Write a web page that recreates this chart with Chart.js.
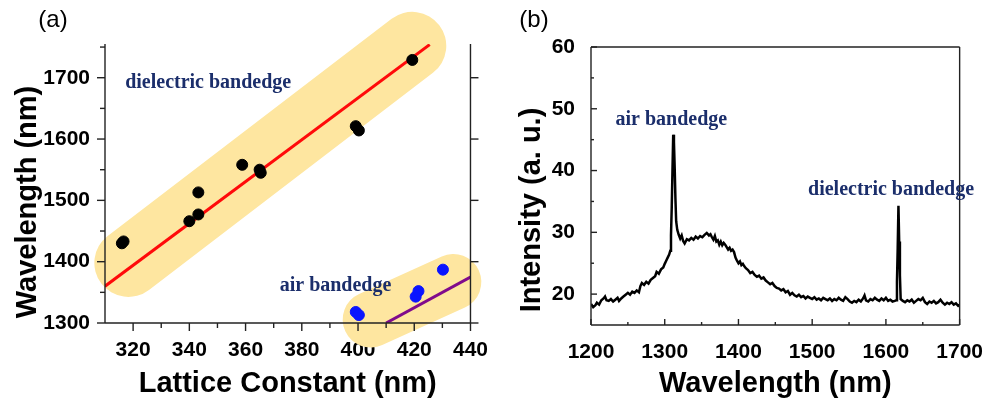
<!DOCTYPE html>
<html>
<head>
<meta charset="utf-8">
<script src="https://cdn.jsdelivr.net/npm/chart.js@4/dist/chart.umd.min.js"></script>
<style>
  body { margin: 0; background: #fff; }
  #wrap { position: relative; width: 990px; height: 400px; }
  canvas { position: absolute; top: 0; }
</style>
</head>
<body>
<div id="wrap">
  <canvas id="chartA" width="495" height="400" style="left:0"></canvas>
  <canvas id="chartB" width="495" height="400" style="left:495px"></canvas>
</div>
<script>
// (a) band edge vs lattice constant
const latticeBlack = [316, 316.6, 340, 343.2, 343.2, 358.8, 365, 365.4, 399.2, 400.3, 419.3];
const waveBlack = [1430, 1433, 1466, 1477, 1513, 1558, 1550, 1545, 1621, 1614, 1729];
const latticeBlue = [399.2, 400.3, 420.5, 421.5, 430.2];
const waveBlue = [1318, 1313, 1343, 1352, 1387];
const dielFitX = [310, 425.5];
const dielFitY = [1360, 1754];
const airFitX = [410, 440];
const airFitY = [1300, 1375];
const dielBandX = [318.3, 419.3];
const dielBandY = [1398, 1752];
const airBandX = [404.5, 433.9];
const airBandY = [1305.7, 1366.8];
const xTicksA = [320, 340, 360, 380, 400, 420, 440];
const yTicksA = [1300, 1400, 1500, 1600, 1700];

// (b) spectrum
const specWl = [1200,1203,1206,1208,1211,1214,1217,1219,1221,1224,1227,1230,1233,1236,1238,1241,1244,1247,1250,1253,
  1256,1259,1262,1265,1267,1269,1272,1275,1278,1281,1284,1287,1289,1292,1295,1298,1300,1302,1304,1306,
  1307.5,1308.5,1309.5,1310.5,1311.5,1312.5,1313.5,1314.5,1315.5,1317,1319,1321,1323,1325,1327,1330,1333,1336,1339,1342,
  1345,1348,1351,1354,1357,1360,1362,1364,1366,1368,1370,1372,1374,1376,1378,1380,1382,1384,1386,1388,
  1390,1392,1394,1396,1398,1400,1402,1404,1406,1408,1410,1413,1416,1419,1422,1425,1428,1431,1434,1437,
  1440,1443,1446,1449,1452,1455,1458,1461,1464,1467,1470,1473,1476,1479,1482,1485,1488,1491,1494,1497,
  1500,1503,1506,1509,1512,1515,1518,1521,1524,1527,1530,1533,1536,1539,1542,1545,1548,1551,1554,1557,
  1560,1563,1566,1569,1571,1573,1576,1579,1582,1585,1588,1591,1594,1597,1600,1603,1606,1609,1612,1614,
  1615,1616,1617,1618,1619,1620,1623,1626,1629,1632,1635,1638,1641,1644,1647,1650,1653,1656,1659,1662,
  1665,1668,1671,1674,1677,1680,1683,1686,1689,1692,1695,1698,1700];
const specInt = [18.4,17.9,18.2,18.6,18.3,19.0,19.3,19.6,19.0,18.9,19.2,18.8,19.1,19.4,18.9,19.3,19.6,19.9,20.2,19.9,
  20.4,20.2,20.6,20.3,21.3,21.8,21.5,22.0,21.7,22.3,22.6,22.9,23.6,23.3,24.0,24.3,24.9,25.4,25.9,26.4,
  27.0,29.5,34.0,40.0,45.8,44.6,40.5,35.5,31.8,30.4,29.6,29.0,29.5,28.6,28.2,28.9,28.7,29.1,28.8,29.3,
  29.0,29.4,29.2,29.6,29.9,29.5,29.7,29.2,28.8,29.4,28.5,28.7,28.0,28.5,27.9,28.3,28.0,27.6,27.2,27.5,
  27.0,27.2,26.8,25.9,25.4,25.0,25.3,24.7,24.9,24.5,24.2,23.9,23.4,23.6,23.1,22.8,23.0,22.5,22.7,22.2,
  21.9,21.6,21.8,21.3,21.0,20.9,20.6,20.8,20.3,20.5,19.9,20.2,19.8,19.6,19.9,19.5,19.7,19.3,19.6,19.4,
  19.2,19.5,19.1,19.3,19.0,19.4,19.2,19.0,19.3,18.9,19.2,19.0,19.4,19.1,18.9,19.5,19.2,18.8,18.6,18.9,
  18.7,19.1,18.8,19.3,19.8,19.0,18.8,19.2,19.0,19.4,19.1,18.9,19.3,19.0,19.4,18.9,19.1,18.8,18.9,19.0,
  22.0,27.5,34.3,28.5,23.0,19.2,18.9,18.7,19.0,18.8,19.1,18.6,18.9,19.2,19.0,19.4,18.7,18.4,18.8,18.6,
  18.9,18.5,18.7,19.1,18.6,18.3,18.6,18.4,18.7,18.3,18.5,18.1,18.3];
const xTicksB = [1200, 1300, 1400, 1500, 1600, 1700];
const yTicksB = [20, 30, 40, 50, 60];

const pts = (xs, ys) => xs.map((x, i) => ({ x: x, y: ys[i] }));

const tickFont = { family: 'Liberation Sans', weight: 'bold', size: 21 };
const bandColor = '#FEE6A0';
const navy = '#1B2E6B';

// frame, ticks, titles and labels
const frame = {
  id: 'frame',
  afterDatasetsDraw(chart, args, o) {
    const ctx = chart.ctx, a = chart.chartArea;
    const xs = chart.scales.x, ys = chart.scales.y;
    ctx.save();
    ctx.strokeStyle = '#222';
    ctx.lineWidth = 1.4;
    const line = (x1, y1, x2, y2) => { ctx.beginPath(); ctx.moveTo(x1, y1); ctx.lineTo(x2, y2); ctx.stroke(); };
    line(a.left, a.top, a.left, a.bottom);
    line(a.left, a.bottom, a.right, a.bottom);
    line(a.right, a.top, a.right, a.bottom);
    if (o.box) line(a.left, a.top, a.right, a.top);
    const d = o.inward ? -1 : 1;
    o.xMajor.forEach(v => { const p = xs.getPixelForValue(v); line(p, a.bottom, p, a.bottom + d * o.major); });
    o.xMinor.forEach(v => { const p = xs.getPixelForValue(v); line(p, a.bottom, p, a.bottom + d * o.minor); });
    o.yMajor.forEach(v => { const p = ys.getPixelForValue(v); line(a.left, p, a.left - d * o.major, p); });
    o.yMinor.forEach(v => { const p = ys.getPixelForValue(v); line(a.left, p, a.left - d * o.minor, p); });
    if (o.rightTicks) o.yMajor.forEach(v => { const p = ys.getPixelForValue(v); line(a.right, p, a.right + o.major, p); });

    ctx.fillStyle = navy;
    ctx.font = 'bold 20px "Liberation Serif"';
    ctx.textAlign = 'center';
    ctx.textBaseline = 'middle';
    o.notes.forEach(n => ctx.fillText(n.text, xs.getPixelForValue(n.x), ys.getPixelForValue(n.y)));

    ctx.fillStyle = '#000';
    ctx.font = 'bold 29px "Liberation Sans"';
    ctx.fillText(o.xTitle, (a.left + a.right) / 2, 384);
    ctx.save();
    ctx.translate(o.yTitleX, o.yTitleY);
    ctx.rotate(-Math.PI / 2);
    ctx.fillText(o.yTitle, 0, 0);
    ctx.restore();
    ctx.font = '24px "Liberation Sans"';
    ctx.fillText(o.panel, o.panelX, 20);
    ctx.restore();
  }
};

function axes(xmin, xmax, ymin, ymax, xTicks, yTicks, yWidth, xHeight, xPad, yPad) {
  return {
    x: {
      type: 'linear', min: xmin, max: xmax,
      afterBuildTicks: s => { s.ticks = xTicks.map(v => ({ value: v })); },
      afterFit: s => { s.height = xHeight; },
      grid: { display: false }, border: { display: false },
      ticks: { font: tickFont, color: '#000', padding: xPad, maxRotation: 0, autoSkip: false, callback: v => String(v) }
    },
    y: {
      type: 'linear', min: ymin, max: ymax,
      afterBuildTicks: s => { s.ticks = yTicks.map(v => ({ value: v })); },
      afterFit: s => { s.width = yWidth; },
      grid: { display: false }, border: { display: false },
      ticks: { font: tickFont, color: '#000', padding: yPad, autoSkip: false, callback: v => String(v) }
    }
  };
}

new Chart(document.getElementById('chartA'), {
  type: 'scatter',
  data: {
    datasets: [
      { data: pts(latticeBlack, waveBlack), backgroundColor: '#000', borderColor: '#000', pointRadius: 5.5, order: 1 },
      { data: pts(latticeBlue, waveBlue), backgroundColor: '#0A14FF', borderColor: '#0A14FF', pointRadius: 5.5, order: 1 },
      { data: pts(dielFitX, dielFitY), showLine: true, borderColor: '#FF0A0A', borderWidth: 3, pointRadius: 0, order: 2 },
      { data: pts(airFitX, airFitY), showLine: true, borderColor: '#800A8C', borderWidth: 3, pointRadius: 0, order: 2 },
      { data: pts(dielBandX, dielBandY), showLine: true, borderColor: bandColor, borderWidth: 68, borderCapStyle: 'round', pointRadius: 0, clip: false, order: 3 },
      { data: pts(airBandX, airBandY), showLine: true, borderColor: bandColor, borderWidth: 56, borderCapStyle: 'round', pointRadius: 0, clip: false, order: 3 }
    ]
  },
  options: {
    responsive: false, animation: false, devicePixelRatio: 1,
    layout: { padding: { left: 0, top: 44, right: 14, bottom: 0 } },
    scales: axes(310, 440, 1300, 1755, xTicksA, yTicksA, 105, 77, 7, 7),
    plugins: {
      legend: { display: false }, tooltip: { enabled: false },
      frame: {
        box: false, inward: false, rightTicks: true, major: 8, minor: 5,
        xMajor: xTicksA, xMinor: [330, 350, 370, 390, 410, 430],
        yMajor: yTicksA, yMinor: [1350, 1450, 1550, 1650, 1750],
        notes: [{ text: 'dielectric bandedge', x: 346.7, y: 1692 }, { text: 'air bandedge', x: 392, y: 1360 }],
        xTitle: 'Lattice Constant (nm)', yTitle: 'Wavelength (nm)', yTitleX: 28, yTitleY: 202,
        panel: '(a)', panelX: 53
      }
    }
  },
  plugins: [frame]
});

new Chart(document.getElementById('chartB'), {
  type: 'scatter',
  data: {
    datasets: [
      { data: pts(specWl, specInt), showLine: true, borderColor: '#000', borderWidth: 2.5, pointRadius: 0 }
    ]
  },
  options: {
    responsive: false, animation: false, devicePixelRatio: 1,
    layout: { padding: { left: 0, top: 47, right: 23, bottom: 0 } },
    scales: axes(1200, 1700, 15, 60, xTicksB, yTicksB, 96, 75, 7, 8),
    plugins: {
      legend: { display: false }, tooltip: { enabled: false },
      frame: {
        box: true, inward: true, rightTicks: false, major: 6, minor: 3,
        xMajor: xTicksB, xMinor: [1250, 1350, 1450, 1550, 1650],
        yMajor: yTicksB, yMinor: [25, 35, 45, 55],
        notes: [{ text: 'air bandedge', x: 1309, y: 48.2 }, { text: 'dielectric bandedge', x: 1607, y: 36.8 }],
        xTitle: 'Wavelength (nm)', yTitle: 'Intensity (a. u.)', yTitleX: 37, yTitleY: 210,
        panel: '(b)', panelX: 39
      }
    }
  },
  plugins: [frame]
});
</script>
</body>
</html>
